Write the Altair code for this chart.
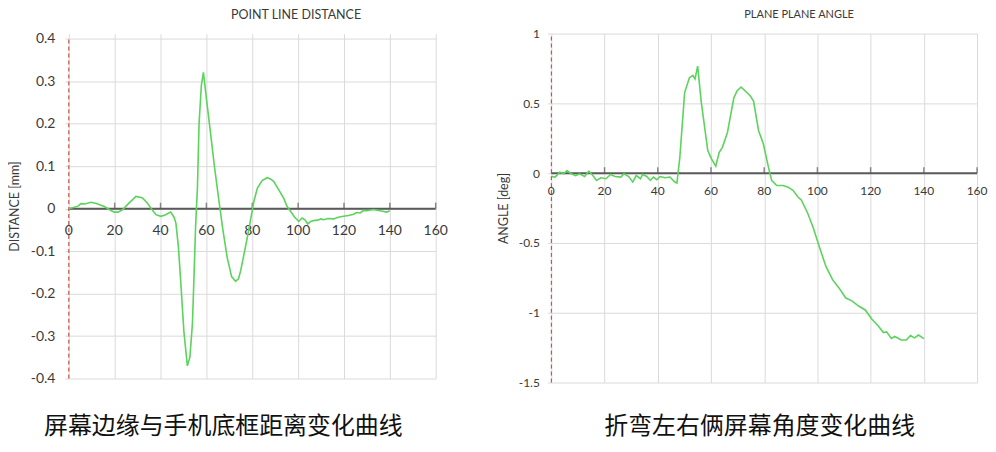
import altair as alt
import pandas as pd

# ---------------- data ----------------
dist_x = [0, 2, 4, 5.3, 7, 9.7, 12, 15.5, 18, 19.8, 21.5, 23.5, 26, 29.3, 32, 34.3, 36, 38,
          40.1, 42, 44.4, 45.9, 46.7, 47.8, 48.8, 50.2, 51.7, 52.8, 53.9, 54.6, 55.3, 56.1,
          56.8, 57.8, 58.7, 60, 61.9, 63.5, 65.5, 67.2, 69.1, 71, 72.7, 74, 74.9, 76.3, 77.8,
          79.3, 80.7, 82.2, 84.3, 86.5, 88, 89.4, 91.5, 93.7, 95.2, 96.7, 98.5, 100.3, 101.7,
          103, 104.2, 105.5, 106.8, 108.5, 110, 111.1, 113, 115.5, 117.5, 119.8, 122, 124.2,
          125.5, 127.1, 128.5, 130, 132.9, 134, 135.8, 138.7, 140]
dist_y = [0.0, 0.003, 0.006, 0.012, 0.011, 0.015, 0.012, 0.005, -0.003, -0.008, -0.008, -0.002,
          0.012, 0.029, 0.026, 0.013, 0.0, -0.014, -0.018, -0.015, -0.008, -0.02, -0.034, -0.09,
          -0.171, -0.29, -0.37, -0.35, -0.272, -0.16, -0.04, 0.05, 0.2, 0.29, 0.321, 0.26, 0.174,
          0.1, 0.017, -0.05, -0.116, -0.16, -0.171, -0.165, -0.147, -0.11, -0.069, -0.025, 0.017,
          0.048, 0.066, 0.073, 0.07, 0.064, 0.045, 0.025, 0.005, -0.006, -0.02, -0.03, -0.022,
          -0.026, -0.036, -0.03, -0.028, -0.027, -0.024, -0.026, -0.023, -0.024, -0.02, -0.018,
          -0.016, -0.013, -0.009, -0.01, -0.004, -0.005, -0.002, -0.003, -0.005, -0.008, -0.005]

ang_x = [0.1, 1.4, 3.2, 4.7, 5.9, 7.5, 9.1, 10.6, 12.5, 14.1, 15.6, 17.0, 18.6, 20.5, 22.3, 23.9,
         26.1, 27.3, 29.1, 30.6, 31.9, 33.5, 34.3, 35.9, 37.2, 38.4, 39.6, 40.9, 42.7, 44.6, 46.4,
         47.2, 48.3, 50.1, 51.9, 53.2, 54, 55, 56.3, 57.3, 58.8, 60.2, 61.8, 63.1, 64.3, 66.2,
         68.6, 69.8, 71.3, 72.9, 74.8, 76, 77.9, 79.7, 81.6, 82.8, 84.7, 87.1, 89, 90.8, 92.7,
         94, 96.4, 98.3, 100.7, 103.2, 105.7, 108.1, 110.6, 113.1, 115.5, 118, 120.5, 122.9,
         124.8, 126, 127.8, 129.1, 131.5, 133.4, 135, 136.5, 138, 140]
ang_y = [-0.024, -0.028, 0.007, -0.005, 0.019, -0.005, -0.017, -0.005, -0.024, 0.014, -0.017,
         -0.052, -0.033, -0.040, -0.009, -0.024, -0.028, -0.005, -0.024, -0.064, -0.017, -0.040,
         -0.009, -0.024, -0.052, -0.028, -0.047, -0.024, -0.033, -0.028, -0.064, -0.071, 0.114,
         0.577, 0.684, 0.70, 0.676, 0.767, 0.517, 0.375, 0.162, 0.102, 0.05, 0.15, 0.185, 0.292,
         0.54, 0.589, 0.617, 0.589, 0.553, 0.517, 0.304, 0.209, 0.043, -0.052, -0.088, -0.088,
         -0.10, -0.123, -0.171, -0.194, -0.289, -0.384, -0.526, -0.668, -0.763, -0.822, -0.893,
         -0.917, -0.952, -0.98, -1.047, -1.095, -1.142, -1.137, -1.185, -1.17, -1.195, -1.195,
         -1.163, -1.18, -1.16, -1.185]

x_ticks = [0, 20, 40, 60, 80, 100, 120, 140, 160]
dist_ticks = [-0.4, -0.3, -0.2, -0.1, 0, 0.1, 0.2, 0.3, 0.4]
ang_ticks = [-1.5, -1, -0.5, 0, 0.5, 1]

FONT = "Lato"
CJK = "Noto Sans CJK SC"
GREEN = "#5cd35c"
GRID = "#dadada"
TXT = "#3a3a3a"
LABEL_EXPR = ("datum.value < 0 ? '-' + format(-datum.value, '.1~f') : "
              "format(datum.value, '.1~f')")


def panel(xs, ys, yticks, ydomain, ytop, w, h, title, title_size, title_offset, title_dx,
          ytitle, ytitle_size, label_size, ylabel_pad, ytitle_pad, caption, cap_x, cap_y,
          xlabel_dy):
    df = pd.DataFrame({"x": xs, "y": ys})
    ticks_df = pd.DataFrame({"x": x_ticks, "label": [str(t) for t in x_ticks]})
    zero_df = pd.DataFrame({"x": [0], "x2": [160], "y": [0]})
    cap_df = pd.DataFrame({"caption": [caption]})

    xscale = alt.Scale(domain=[0, 160], nice=False, zero=False)
    yscale = alt.Scale(domain=[ydomain[0], ytop], nice=False, zero=False)
    xaxis = alt.Axis(values=x_ticks, labels=False, ticks=False, domain=False, grid=True,
                     gridColor=GRID, gridWidth=1, title=None)
    yaxis = alt.Axis(values=yticks, grid=True, gridColor=GRID, gridWidth=1, domain=False,
                     ticks=True, tickColor=GRID, tickSize=4, labelPadding=ylabel_pad,
                     labelFont=FONT, labelFontSize=label_size, labelColor=TXT,
                     labelExpr=LABEL_EXPR, title=ytitle, titleFont=FONT,
                     titleFontSize=ytitle_size, titleFontWeight="normal", titleColor=TXT,
                     titlePadding=ytitle_pad)

    X = alt.X("x:Q", scale=xscale, axis=xaxis)
    Y = alt.Y("y:Q", scale=yscale, axis=yaxis)

    # y axis line (red dashed) spanning the ticked range
    yline = alt.Chart(zero_df).mark_rule(color="#c0392b", strokeWidth=1,
                                         strokeDash=[4, 3]).encode(
        x=alt.datum(0), y=alt.datum(ydomain[0]), y2=alt.datum(ydomain[1]))
    zero = alt.Chart(zero_df).mark_rule(color="#5a5a5a", strokeWidth=2).encode(
        x=X, x2="x2:Q", y=Y)
    tks = alt.Chart(ticks_df[ticks_df.x > 0]).mark_tick(
        orient="vertical", size=6, thickness=1.5, color="#5a5a5a", yOffset=-3
    ).encode(x=X, y=alt.datum(0))
    labels = alt.Chart(ticks_df).mark_text(
        dy=xlabel_dy, font=FONT, fontSize=label_size, color=TXT
    ).encode(x=X, y=alt.datum(0), text="label:N")
    line = alt.Chart(df).mark_line(color=GREEN, strokeWidth=1.6).encode(x=X, y=Y)
    cap = alt.Chart(cap_df).mark_text(
        font=CJK, fontSize=24, color="#111111", align="center", baseline="middle"
    ).encode(x=alt.value(cap_x), y=alt.value(h + cap_y), text="caption:N")

    return alt.layer(zero, tks, labels, yline, line, cap).properties(
        width=w, height=h,
        title=alt.TitleParams(text=title, font=FONT, fontSize=title_size,
                              fontWeight="normal", color=TXT, offset=title_offset,
                              dx=title_dx, anchor="middle"),
    )


left = panel(dist_x, dist_y, dist_ticks, [-0.4, 0.4], 0.4124, 368, 346, "POINT LINE DISTANCE",
             12.5, 10.5, 44, "DISTANCE [mm]", 12.5, 14, 10, 9, "屏幕边缘与手机底框距离变化曲线",
             155, 49, 22)
right = panel(ang_x, ang_y, ang_ticks, [-1.5, 1], 1, 427, 350, "PLANE PLANE ANGLE", 11,
              8, 35, "ANGLE [deg]", 12.5, 12, 8, 8, "折弯左右俩屏幕角度变化曲线",
              209, 45, 18)

chart = alt.hconcat(left, right, spacing=48).properties(
    padding={"left": 0, "top": 0, "right": 0, "bottom": 4}
).configure_view(stroke=None)

chart.save("out.html", embed_options={"renderer": "svg", "actions": False})
